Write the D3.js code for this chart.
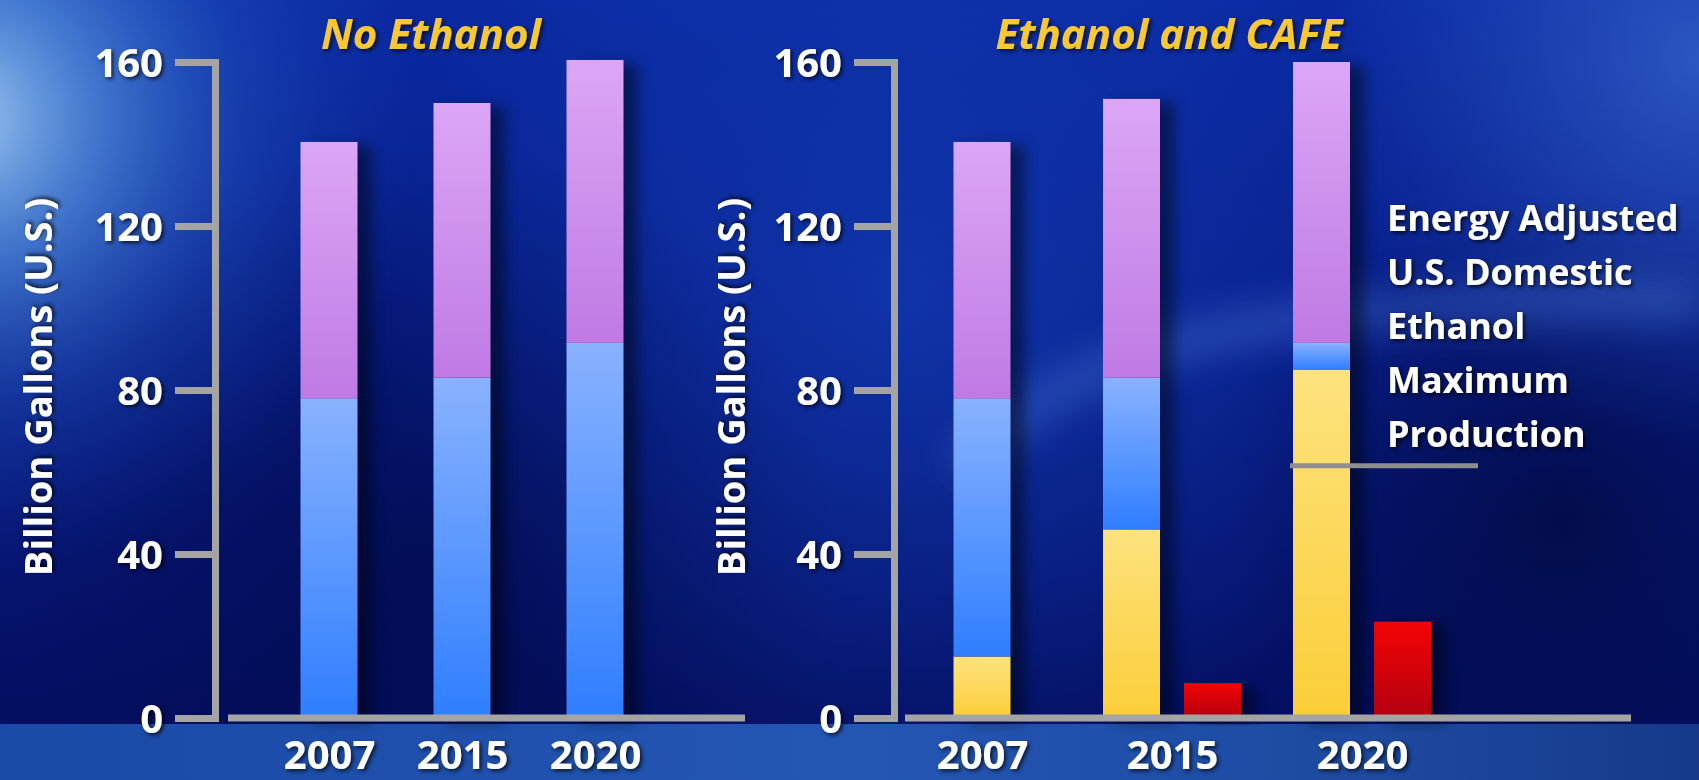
<!DOCTYPE html>
<html>
<head>
<meta charset="utf-8">
<script src="https://cdn.jsdelivr.net/npm/d3@7"></script>
<style>
  body { margin: 0; background: #06157a; }
  svg { display: block; font-family: "Open Sans", "Noto Sans", sans-serif; }
  .tick line, .domain { stroke: #a4a4a4; stroke-width: 7; }
  .ylab text { fill: #fff; font-weight: bold; font-size: 40px; font-family: "Open Sans", sans-serif; }
  .xlab text { fill: #fff; font-weight: bold; font-size: 40px; font-family: "Open Sans", sans-serif; }
</style>
</head>
<body>
<svg id="chart" width="1699" height="780"></svg>
<script>
// data (billion gallons)
const years = ['2007', '2015', '2020'];
const noEthGasoline = [78, 83, 91.5];
const noEthOther = [62.5, 67, 69];
const cafeEthanol = [15, 46, 85];
const cafeGasoline = [63, 37, 6.5];
const cafeOther = [62.5, 68, 68.5];
const cafeSavings = [0, 8.5, 23.5];
const yTicks = [0, 40, 80, 120, 160];
const maxProduction = 61.5;
const noteLines = ['Energy Adjusted', 'U.S. Domestic', 'Ethanol', 'Maximum', 'Production'];
const titles = ['No Ethanol', 'Ethanol and CAFE'];
const yTitle = 'Billion Gallons (U.S.)';

const W = 1699, H = 780;
const svg = d3.select('#chart');
const defs = svg.append('defs');

function linGrad(id, stops, x2, y2) {
  const g = defs.append('linearGradient').attr('id', id)
    .attr('x1', 0).attr('y1', 0).attr('x2', x2).attr('y2', y2);
  stops.forEach(s => g.append('stop').attr('offset', s[0]).attr('stop-color', s[1]).attr('stop-opacity', s[2] == null ? 1 : s[2]));
}
function radGrad(id, cx, cy, r, stops) {
  const g = defs.append('radialGradient').attr('id', id).attr('gradientUnits', 'userSpaceOnUse')
    .attr('cx', cx).attr('cy', cy).attr('r', r);
  stops.forEach(s => g.append('stop').attr('offset', s[0]).attr('stop-color', s[1]).attr('stop-opacity', s[2]));
}

linGrad('bgBase', [[0, '#0a2aa2'], [0.45, '#071c86'], [0.9, '#040f62']], 0, 1);
radGrad('glowTL', -40, 120, 460, [[0, '#a6d2f6', 0.95], [0.3, '#5a98e4', 0.7], [0.62, '#2a62cc', 0.35], [1, '#1a3fb0', 0]]);
radGrad('glowMid', 900, 300, 520, [[0, '#1745c0', 0.55], [1, '#1745c0', 0]]);
radGrad('glowTR', 1699, 60, 380, [[0, '#3a6ad0', 0.7], [1, '#2a55c0', 0]]);
radGrad('darkR', 1560, 520, 330, [[0, '#020a40', 0.75], [1, '#020a40', 0]]);
radGrad('darkL', 420, 560, 420, [[0, '#020a45', 0.6], [1, '#020a45', 0]]);
linGrad('band', [[0, '#1a49a6'], [0.5, '#2456b4'], [0.8, '#1d4aa0'], [1, '#16398a']], 1, 0);

linGrad('gPurple', [[0, '#dca6f6'], [1, '#bf7ae3']], 0, 1);
linGrad('gBlue', [[0, '#89b2ff'], [1, '#2f7eff']], 0, 1);
linGrad('gYellow', [[0, '#fde27e'], [1, '#fbce38']], 0, 1);
linGrad('gRed', [[0, '#f30404'], [1, '#b30010']], 0, 1);

defs.append('filter').attr('id', 'blur').attr('x', '-50%').attr('width', '200%')
  .append('feGaussianBlur').attr('stdDeviation', 7);
defs.append('filter').attr('id', 'soft').attr('x', '-20%').attr('y', '-50%').attr('width', '140%').attr('height', '200%')
  .append('feGaussianBlur').attr('stdDeviation', 18);
const ts = defs.append('filter').attr('id', 'tshadow').attr('x', '-10%').attr('y', '-20%').attr('width', '130%').attr('height', '150%');
ts.append('feDropShadow').attr('dx', 2).attr('dy', 2).attr('stdDeviation', 2).attr('flood-color', '#000').attr('flood-opacity', 0.75);

// background
svg.append('rect').attr('width', W).attr('height', H).attr('fill', 'url(#bgBase)');
svg.append('rect').attr('width', W).attr('height', H).attr('fill', 'url(#glowMid)');
svg.append('rect').attr('width', W).attr('height', H).attr('fill', 'url(#darkL)');
svg.append('rect').attr('width', W).attr('height', H).attr('fill', 'url(#darkR)');
svg.append('rect').attr('width', W).attr('height', H).attr('fill', 'url(#glowTR)');
svg.append('rect').attr('width', W).attr('height', H).attr('fill', 'url(#glowTL)');
svg.append('path').attr('d', 'M960,470 C1080,330 1300,300 1699,300')
  .attr('fill', 'none').attr('stroke', '#4d7fe0').attr('stroke-opacity', 0.35).attr('stroke-width', 40).attr('filter', 'url(#soft)');
svg.append('rect').attr('y', 724).attr('width', W).attr('height', H - 724).attr('fill', 'url(#band)');

const y = d3.scaleLinear().domain([0, 160]).range([718, 62]);
const barW = 57, gap = 24;

function panel(opt) {
  const g = svg.append('g');
  const x = d3.scalePoint().domain(years).range(opt.centers);

  // rows for the stack
  const rows = years.map((yr, i) => {
    const r = { year: yr };
    opt.keys.forEach(k => { r[k.name] = k.values[i]; });
    return r;
  });
  const stack = d3.stack().keys(opt.keys.map(k => k.name))(rows);
  const mainX = (d, i) => {
    const c = x(d.year);
    return opt.side && opt.side[i] > 0 ? c - gap / 2 - barW : c - barW / 2;
  };

  // shadows
  g.append('g').selectAll('rect').data(rows).join('rect')
    .attr('x', (d, i) => mainX(d, i) + 14)
    .attr('y', (d, i) => y(d3.sum(opt.keys, k => k.values[i])) + 4)
    .attr('width', barW)
    .attr('height', (d, i) => y(0) - y(d3.sum(opt.keys, k => k.values[i])))
    .attr('fill', '#000').attr('opacity', 0.45).attr('filter', 'url(#blur)');

  g.append('g').selectAll('g').data(stack).join('g')
    .attr('fill', (s, j) => opt.keys[j].fill)
    .selectAll('rect').data(s => s).join('rect')
    .attr('x', (d, i) => mainX(d.data, i))
    .attr('y', d => y(d[1]))
    .attr('width', barW)
    .attr('height', d => y(d[0]) - y(d[1]));

  if (opt.side) {
    const sideRows = years.map((yr, i) => ({ year: yr, v: opt.side[i] })).filter(d => d.v > 0);
    g.append('g').selectAll('rect').data(sideRows).join('rect')
      .attr('x', d => x(d.year) + gap / 2 + 14)
      .attr('y', d => y(d.v) + 4)
      .attr('width', barW).attr('height', d => y(0) - y(d.v))
      .attr('fill', '#000').attr('opacity', 0.45).attr('filter', 'url(#blur)');
    g.append('g').selectAll('rect').data(sideRows).join('rect')
      .attr('x', d => x(d.year) + gap / 2)
      .attr('y', d => y(d.v))
      .attr('width', barW).attr('height', d => y(0) - y(d.v))
      .attr('fill', 'url(#gRed)');
  }

  // axes
  g.append('line').attr('class', 'domain')
    .attr('x1', opt.xLine[0]).attr('x2', opt.xLine[1])
    .attr('y1', y(0)).attr('y2', y(0));

  const ya = g.append('g').attr('class', 'ylab')
    .attr('transform', `translate(${opt.axisX},0)`)
    .call(d3.axisLeft(y).tickValues(yTicks).tickSize(40).tickSizeOuter(40).tickPadding(12));
  ya.attr('font-family', null).attr('font-size', null);
  ya.selectAll('text').attr('dy', '0.36em').attr('filter', 'url(#tshadow)');
  ya.selectAll('.tick line').attr('stroke', '#a4a4a4');

  const xa = g.append('g').attr('class', 'xlab')
    .attr('transform', `translate(0,${y(0)})`)
    .call(d3.axisBottom(x).tickSize(0));
  xa.attr('font-family', null).attr('font-size', null);
  xa.select('.domain').remove();
  xa.selectAll('text').attr('y', 51).attr('dy', 0).attr('filter', 'url(#tshadow)');

  g.append('text')
    .attr('transform', `translate(${opt.yTitleX},387) rotate(-90)`)
    .attr('text-anchor', 'middle').attr('dy', '0.36em')
    .attr('fill', '#fff').attr('font-weight', 'bold').attr('font-size', 38)
    .attr('filter', 'url(#tshadow)')
    .text(yTitle);

  g.append('text')
    .attr('x', opt.titleX).attr('y', 49)
    .attr('text-anchor', 'middle')
    .attr('fill', '#f8c832').attr('font-weight', 'bold').attr('font-style', 'italic').attr('font-size', 42)
    .attr('filter', 'url(#tshadow)')
    .text(opt.title);

  return { x, mainX };
}

panel({
  centers: [329, 595], axisX: 215, xLine: [228, 745], yTitleX: 38, titleX: 431, title: titles[0],
  keys: [
    { name: 'gasoline', values: noEthGasoline, fill: 'url(#gBlue)' },
    { name: 'other', values: noEthOther, fill: 'url(#gPurple)' }
  ]
});

const right = panel({
  centers: [982, 1362], axisX: 894, xLine: [905, 1631], yTitleX: 731, titleX: 1169, title: titles[1],
  side: cafeSavings,
  keys: [
    { name: 'ethanol', values: cafeEthanol, fill: 'url(#gYellow)' },
    { name: 'gasoline', values: cafeGasoline, fill: 'url(#gBlue)' },
    { name: 'other', values: cafeOther, fill: 'url(#gPurple)' }
  ]
});

// ethanol maximum production marker
const lastX = right.mainX({ year: years[2] }, 2);
svg.append('line')
  .attr('x1', lastX - 3).attr('x2', lastX + 185)
  .attr('y1', y(maxProduction)).attr('y2', y(maxProduction))
  .attr('stroke', '#8e8e8e').attr('stroke-width', 5);

svg.append('g').selectAll('text').data(noteLines).join('text')
  .attr('x', 1387).attr('y', (d, i) => 231 + i * 54)
  .attr('fill', '#fff').attr('font-weight', 'bold').attr('font-size', 36)
  .attr('filter', 'url(#tshadow)')
  .text(d => d);
</script>
</body>
</html>
